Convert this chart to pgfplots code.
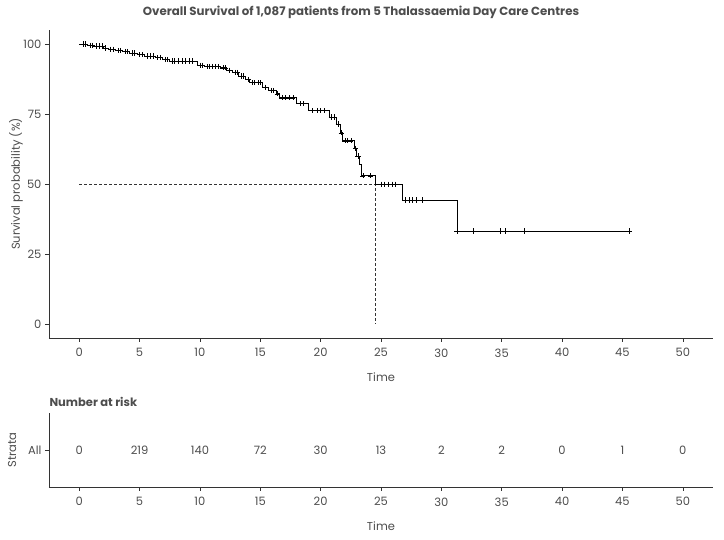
\documentclass[border=0pt]{standalone}
\usepackage{pgfplots}
\pgfplotsset{compat=1.18}
\usepackage{fontspec}
\setmainfont{Poppins}
\definecolor{txt}{HTML}{4D4D4D}
\definecolor{axl}{HTML}{333333}

\pgfplotstableread{
t S
0 100
0.7 99.6
1.3 99.3
2.0 98.6
2.4 98.1
3.0 97.7
3.6 97.3
4.2 96.8
4.8 96.2
5.4 95.7
6.3 95.2
6.9 94.5
7.5 93.9
9.8 92.4
10.4 92.0
11.7 91.5
12.2 90.6
12.7 89.8
13.2 88.6
13.8 87.3
14.1 86.2
15.2 84.6
15.7 83.4
16.3 82.2
16.6 80.8
18.0 78.7
19.0 76.2
20.7 73.9
21.3 71.4
21.6 68.3
21.8 65.4
22.8 62.8
23.0 60.0
23.2 57.0
23.4 52.9
24.5 49.9
26.8 44.3
31.3 33.2
45.55 33.2
}\kmcurve

\pgfplotstableread{
t S
0.3 100
0.5 100
0.9 99.6
1.1 99.6
1.4 99.3
1.7 99.3
1.9 99.3
2.2 98.6
2.6 98.1
2.8 98.1
3.2 97.7
3.4 97.7
3.8 97.3
4.0 97.3
4.4 96.8
4.6 96.8
5.0 96.2
5.2 96.2
5.6 95.7
5.9 95.7
6.1 95.7
6.5 95.2
6.7 95.2
7.1 94.5
7.3 94.5
7.7 93.9
7.9 93.9
8.2 93.9
8.5 93.9
8.8 93.9
9.1 93.9
9.4 93.9
10.0 92.4
10.2 92.4
10.6 92.0
10.8 92.0
11.0 92.0
11.3 92.0
11.5 92.0
11.9 91.5
12.1 91.5
12.4 90.6
12.9 89.8
13.1 89.8
13.4 88.6
13.6 88.6
14.0 87.3
14.3 86.2
14.5 86.2
14.8 86.2
15.0 86.2
15.4 84.6
15.9 83.4
16.1 83.4
16.4 82.2
16.8 80.8
17.1 80.8
17.4 80.8
17.7 80.8
18.3 78.7
18.6 78.7
19.3 76.2
19.7 76.2
20.0 76.2
20.3 76.2
20.9 73.9
21.1 73.9
21.45 71.4
21.7 68.3
22.0 65.4
22.2 65.4
22.5 65.4
22.9 62.8
23.1 60.0
23.5 52.9
24.1 52.9
25.0 49.9
25.3 49.9
25.6 49.9
25.9 49.9
26.2 49.9
27.0 44.3
27.3 44.3
27.6 44.3
27.9 44.3
28.4 44.3
31.3 33.2
32.6 33.2
34.85 33.2
35.3 33.2
36.9 33.2
45.55 33.2
}\censor

\pgfplotstableread{
x y n
0 1 0
5 1 219
10 1 140
15 1 72
20 1 30
25 1 13
30 1 2
35 1 2
40 1 0
45 1 1
50 1 0
}\risk

\pgfplotsset{
  kmstyle/.style={
    scale only axis, width=664pt,
    xmin=-2.5, xmax=52.5,
    axis x line*=bottom, axis y line*=left,
    axis line style={axl, line width=0.6pt, -},
    xtick={0,5,...,50},
    tick style={axl, line width=0.6pt}, tick align=outside, major tick length=4pt,
    ticklabel style={font=\fontsize{11.5}{13}\selectfont, text=txt},
    xticklabel style={yshift=-3pt},
    /pgf/number format/assume math mode=true,
    label style={font=\fontsize{11.5}{13}\selectfont, text=txt},
    xlabel={Time},
    xlabel style={at={(axis description cs:0.5,0)}, anchor=center, yshift=-39pt},
    clip=false,
  }
}

\begin{document}
\begin{tikzpicture}
\path[use as bounding box] (0pt,0pt) rectangle (724pt,540pt);
\node[font=\fontseries{sb}\selectfont\fontsize{11.8}{13}\selectfont, text=txt] at (361pt,528pt) {Overall Survival of 1,087 patients from 5 Thalassaemia Day Care Centres};
\begin{axis}[kmstyle,
  at={(49pt,202pt)}, anchor=south west, height=308pt,
  ymin=-5, ymax=105, ytick={0,25,50,75,100},
  ylabel={Survival probability (\%)},
  ylabel style={at={(axis description cs:0,0.5)}, anchor=center, yshift=33pt},
]
\addplot[dashed, dash pattern=on 3pt off 2pt, axl, line width=0.5pt] coordinates {(0,50) (24.5,50) (24.5,0)};
\addplot[const plot, black, line width=0.8pt] table[x=t, y=S] {\kmcurve};
\addplot[only marks, mark=+, mark size=2.6pt, black, mark options={line width=0.5pt}] table[x=t, y=S] {\censor};
\end{axis}
\begin{axis}[kmstyle,
  at={(49pt,53pt)}, anchor=south west, height=74pt,
  ymin=0.5, ymax=1.5, ytick={1}, yticklabels={All},
  ylabel={Strata},
  ylabel style={at={(axis description cs:0,0.5)}, anchor=center, yshift=37pt},
  title={Number at risk},
  title style={at={(axis description cs:0,1)}, anchor=south west, xshift=-3pt, font=\fontseries{sb}\selectfont\fontsize{11.5}{13}\selectfont, text=txt, yshift=-3pt},
]
\addplot[draw=none, mark=none, nodes near coords, point meta=explicit symbolic,
  every node near coord/.append style={anchor=center, font=\fontsize{11.5}{13}\selectfont, text=txt}]
  table[x=x, y=y, meta=n] {\risk};
\end{axis}
\end{tikzpicture}
\end{document}
